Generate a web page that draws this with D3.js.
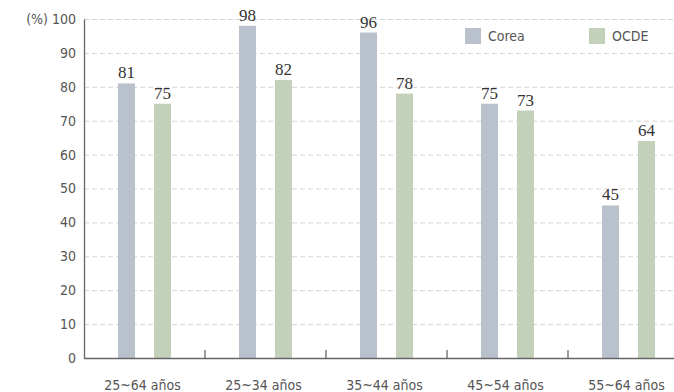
<!DOCTYPE html>
<html>
<head>
<meta charset="utf-8">
<script src="https://cdn.jsdelivr.net/npm/d3@7"></script>
<style>
  body { margin: 0; background: #fff; }
  svg text { font-family: "Liberation Sans Narrow", "DejaVu Sans Condensed", "Roboto", sans-serif; }
  .val { font-family: "Liberation Serif", "DejaVu Serif", serif !important; }
</style>
</head>
<body>
<svg width="674" height="392"></svg>
<script>
const groups = ["25~64 años", "25~34 años", "35~44 años", "45~54 años", "55~64 años"]
const series = ["Corea", "OCDE"]
const corea = [81, 98, 96, 75, 45]
const ocde = [75, 82, 78, 73, 64]
const yTicks = [0, 10, 20, 30, 40, 50, 60, 70, 80, 90, 100]

const colors = { "Corea": "#b9c2cc", "OCDE": "#c3d0ba" }
const W = 674, H = 392

let svg = d3.select("svg")

let x0 = d3.scaleBand()
  .domain(groups)
  .range([84, 689])

let x1 = d3.scaleBand()
  .domain(series)
  .range([0, 53])
  .paddingInner(19 / 36)

let y = d3.scaleLinear()
  .domain([0, 100])
  .range([358, 19])

// grid
svg.append("g")
  .selectAll("line")
  .data(yTicks.filter(d => d > 0))
  .enter().append("line")
  .attr("x1", 84).attr("x2", W)
  .attr("y1", d => y(d) + .5).attr("y2", d => y(d) + .5)
  .attr("stroke", "#d4d4d4")
  .attr("stroke-dasharray", "5,3")

// y axis
let yAxis = svg.append("g")
  .attr("transform", "translate(84,0)")
  .call(d3.axisLeft(y).tickValues(yTicks).tickSize(0).tickPadding(8))
yAxis.select(".domain").attr("stroke", "#666").attr("stroke-width", 1.3)
yAxis.selectAll("text").attr("font-size", 14).attr("fill", "#555")
  .attr("font-family", null)
yAxis.selectAll(".tick").filter(d => d === 100).select("text").text("(%) 100")

let rows = groups.map((g, i) => ({ group: g, values: [
  { key: "Corea", value: corea[i] },
  { key: "OCDE", value: ocde[i] }
]}))

let off = (x0.bandwidth() - 53) / 2

let gs = svg.append("g")
  .selectAll("g")
  .data(rows)
  .enter().append("g")
  .attr("transform", d => "translate(" + (x0(d.group) + off) + ",0)")

gs.selectAll("rect")
  .data(d => d.values)
  .enter().append("rect")
  .attr("x", d => x1(d.key))
  .attr("y", d => y(d.value))
  .attr("width", x1.bandwidth())
  .attr("height", d => y(0) - y(d.value))
  .attr("fill", d => colors[d.key])

gs.selectAll("text")
  .data(d => d.values)
  .enter().append("text")
  .attr("class", "val")
  .attr("x", d => x1(d.key) + x1.bandwidth() / 2)
  .attr("y", d => y(d.value) - 5)
  .attr("text-anchor", "middle")
  .attr("font-size", 17)
  .attr("fill", "#333")
  .text(d => d.value)

// x axis
svg.append("line")
  .attr("x1", 84).attr("x2", W)
  .attr("y1", y(0) + .5).attr("y2", y(0) + .5)
  .attr("stroke", "#666").attr("stroke-width", 1.3)

svg.append("g")
  .selectAll("line")
  .data(groups.slice(1))
  .enter().append("line")
  .attr("x1", d => x0(d)).attr("x2", d => x0(d))
  .attr("y1", y(0)).attr("y2", y(0) - 8)
  .attr("stroke", "#666").attr("stroke-width", 1.3)

svg.append("g")
  .selectAll("text")
  .data(groups)
  .enter().append("text")
  .attr("x", d => x0(d) + x0.bandwidth() / 2 - 2)
  .attr("y", 390)
  .attr("text-anchor", "middle")
  .attr("font-size", 14)
  .attr("fill", "#555")
  .text(d => d)

// legend
let leg = svg.append("g")
  .selectAll("g")
  .data(series)
  .enter().append("g")
  .attr("transform", (d, i) => "translate(" + (465 + i * 124) + ",28)")

leg.append("rect")
  .attr("width", 16).attr("height", 16)
  .attr("fill", d => colors[d])

leg.append("text")
  .attr("x", 23).attr("y", 13)
  .attr("font-size", 14)
  .attr("fill", "#555")
  .text(d => d)
</script>
</body>
</html>
